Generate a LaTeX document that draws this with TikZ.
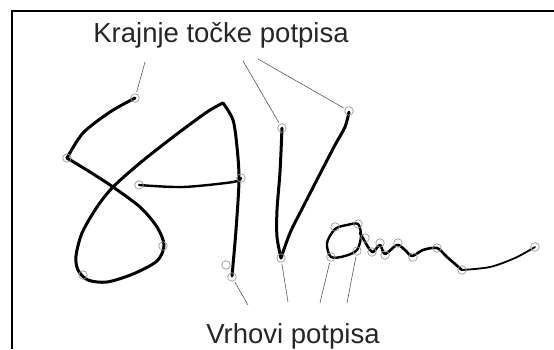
\documentclass[tikz,border=0pt]{standalone}
\usepackage{fontspec}
\setmainfont{Liberation Sans}
\begin{document}
\begin{tikzpicture}[x=1pt,y=-1pt,
  mk/.style={draw=gray!80, circle, inner sep=0pt, minimum size=8.5pt, line width=0.7pt},
  lead/.style={draw=black!65, line width=0.6pt, shorten >=1.5pt},
  sig/.style={line width=3pt, line cap=round, line join=round},
  lbl/.style={anchor=base, inner sep=0pt, text=black!85, font=\fontsize{27.5}{30}\selectfont}]
\useasboundingbox (0,0) rectangle (554,349);
% frame
\draw[line width=2pt] (12,349) -- (12,11) -- (554,11);
% labels
\node[lbl] (kraj) at (221,42) {Krajnje točke potpisa};
\node[lbl] (vrh) at (293,343) {Vrhovi potpisa};
% signature
\draw[sig] plot[smooth] coordinates {(135,98) (110,112) (83,133) (67,158)};
\draw[sig] plot[smooth] coordinates {(67,158) (90,172) (113,187) (140,207) (157,227) (164,245) (157,261) (133,274) (107,282) (88,280) (78,270) (76,256) (82,233) (97,207) (113,187) (140,163) (173,137) (207,112) (223,103)};
\draw[sig] plot[smooth] coordinates {(223,103) (233,120) (237,147) (239,180) (236,230) (232,276)};
\draw[sig, line width=2.4pt] plot[smooth] coordinates {(139,185) (183,187) (233,182) (241,178)};
\draw[sig] plot[smooth] coordinates {(282,128) (280,172) (277,210) (277,237) (281,258)};
\draw[sig] plot[smooth] coordinates {(281,258) (290,233) (303,207) (322,170) (335,145) (345,127) (349,112)};
\draw[sig, line width=2.4pt] plot[smooth cycle] coordinates {(358,224) (347,225) (335,229) (327,243) (331,257) (345,256) (357,250) (361,236)};
\draw[sig, line width=2.6pt] plot[smooth] coordinates {(360,233) (364,240) (368,247) (373,252) (380,245) (385,254) (397,245) (405,250) (412,256) (423,250) (437,248) (447,257) (462,270)};
\draw[sig, line width=1.8pt] plot[smooth] coordinates {(462,270) (490,267) (515,258) (535,247)};
% end points
\node[mk] (e1) at (135,98) {};
\node[mk] (e2) at (67,158) {};
\node[mk] (e3) at (282,128) {};
\node[mk] (e4) at (349,111) {};
\node[mk] (c1) at (139,185) {};
\node[mk] (c2) at (241,178) {};
\node[mk] (c3) at (163,246) {};
\node[mk] (c4) at (83,275) {};
\node[mk] (c5) at (226,265) {};
\node[mk] (o1) at (358,224) {};
\node[mk] (o2) at (335,227) {};
\node[mk] (w1) at (365,238) {};
\node[mk] (w2) at (372,252) {};
\node[mk] (w3) at (380,243) {};
\node[mk] (w4) at (385,255) {};
\node[mk] (w5) at (398,243) {};
\node[mk] (w6) at (413,257) {};
\node[mk] (w7) at (437,248) {};
\node[mk] (w8) at (462,270) {};
\node[mk] (w9) at (535,247) {};
% vertices
\node[mk] (v1) at (232,277) {};
\node[mk] (v2) at (281,258) {};
\node[mk] (v3) at (331,257) {};
\node[mk] (v4) at (357,251) {};
% leader lines
\coordinate (k1) at (145,62);
\coordinate (k2) at (243,61);
\coordinate (k3) at (258,59);
\coordinate (r1) at (248,305);
\coordinate (r2) at (288,302);
\coordinate (r3) at (320,303);
\coordinate (r4) at (347,303);
\draw[lead] (k1) -- (e1);
\draw[lead] (k2) -- (e3);
\draw[lead] (k3) -- (e4);
\draw[lead] (r1) -- (v1);
\draw[lead] (r2) -- (v2);
\draw[lead] (r3) -- (v3);
\draw[lead] (r4) -- (v4);
\end{tikzpicture}
\end{document}
